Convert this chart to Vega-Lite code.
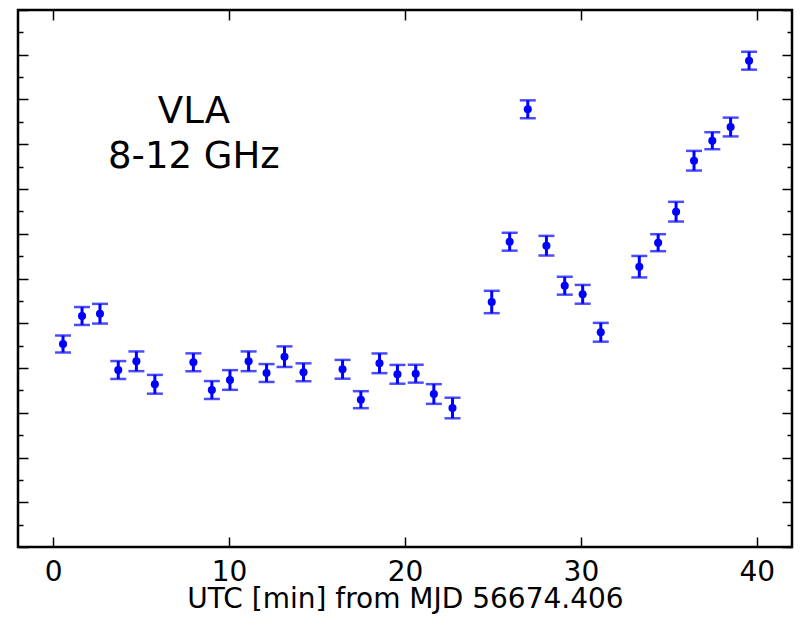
{
  "$schema": "https://vega.github.io/schema/vega-lite/v6.json",
  "width": 774,
  "height": 537,
  "autosize": {"type": "none"},
  "padding": {"left": 18, "top": 10, "right": 9, "bottom": 78},
  "background": "white",
  "config": {
    "view": {"stroke": "black", "strokeWidth": 2.5},
    "font": "DejaVu Sans"
  },
  "data": {
    "values": [
      {"t": 0.56, "flux": 4.536, "err": 0.19},
      {"t": 1.64, "flux": 5.162, "err": 0.20},
      {"t": 2.66, "flux": 5.213, "err": 0.22},
      {"t": 3.70, "flux": 3.955, "err": 0.20},
      {"t": 4.73, "flux": 4.150, "err": 0.22},
      {"t": 5.78, "flux": 3.636, "err": 0.21},
      {"t": 7.97, "flux": 4.127, "err": 0.20},
      {"t": 9.02, "flux": 3.508, "err": 0.20},
      {"t": 10.05, "flux": 3.732, "err": 0.22},
      {"t": 11.11, "flux": 4.150, "err": 0.22},
      {"t": 12.13, "flux": 3.888, "err": 0.20},
      {"t": 13.15, "flux": 4.253, "err": 0.23},
      {"t": 14.23, "flux": 3.904, "err": 0.20},
      {"t": 16.45, "flux": 3.971, "err": 0.21},
      {"t": 17.49, "flux": 3.292, "err": 0.19},
      {"t": 18.55, "flux": 4.105, "err": 0.22},
      {"t": 19.57, "flux": 3.859, "err": 0.21},
      {"t": 20.61, "flux": 3.873, "err": 0.20},
      {"t": 21.64, "flux": 3.419, "err": 0.22},
      {"t": 22.70, "flux": 3.106, "err": 0.23},
      {"t": 24.93, "flux": 5.475, "err": 0.25},
      {"t": 25.95, "flux": 6.822, "err": 0.20},
      {"t": 26.98, "flux": 9.781, "err": 0.20},
      {"t": 28.04, "flux": 6.733, "err": 0.22},
      {"t": 29.08, "flux": 5.839, "err": 0.20},
      {"t": 30.10, "flux": 5.647, "err": 0.21},
      {"t": 31.13, "flux": 4.798, "err": 0.21},
      {"t": 33.32, "flux": 6.264, "err": 0.24},
      {"t": 34.39, "flux": 6.800, "err": 0.19},
      {"t": 35.41, "flux": 7.493, "err": 0.22},
      {"t": 36.43, "flux": 8.632, "err": 0.22},
      {"t": 37.47, "flux": 9.079, "err": 0.19},
      {"t": 38.51, "flux": 9.385, "err": 0.21},
      {"t": 39.56, "flux": 10.867, "err": 0.20}
    ]
  },
  "resolve": {"axis": {"x": "independent", "y": "independent"}},
  "layer": [
    {
      "mark": {"type": "errorbar", "color": "#0000ff", "thickness": 3, "ticks": {"size": 16, "thickness": 2.5, "color": "#0000ff"}},
      "encoding": {
        "x": {
          "field": "t", "type": "quantitative",
          "scale": {"domain": [-2, 42], "nice": false, "zero": false},
          "axis": {
            "orient": "bottom", "values": [0, 10, 20, 30, 40], "domain": false, "grid": false,
            "tickSize": -10, "tickWidth": 1.5, "tickColor": "black",
            "labelPadding": 21, "labelFontSize": 28, "labelColor": "black", "labelFont": "DejaVu Sans",
            "title": "UTC [min] from MJD 56674.406", "titleFontSize": 28, "titleFontWeight": "normal",
            "titleColor": "black", "titleFont": "DejaVu Sans", "titleBaseline": "alphabetic", "titleY": 60
          }
        },
        "y": {
          "field": "flux", "type": "quantitative",
          "scale": {"domain": [0, 12], "nice": false, "zero": false},
          "axis": {
            "orient": "left", "values": [0,0.5,1,1.5,2,2.5,3,3.5,4,4.5,5,5.5,6,6.5,7,7.5,8,8.5,9,9.5,10,10.5,11,11.5,12],
            "domain": false, "grid": false, "labels": false, "title": null,
            "tickSize": {"condition": {"test": "datum.value % 1 === 0", "value": -10}, "value": -5},
            "tickWidth": 1.5, "tickColor": "black"
          }
        },
        "yError": {"field": "err"}
      }
    },
    {
      "mark": {"type": "point", "filled": true, "color": "#0000ff", "opacity": 1, "size": 65},
      "encoding": {
        "x": {
          "field": "t", "type": "quantitative",
          "axis": {
            "orient": "top", "values": [0, 10, 20, 30, 40], "domain": false, "grid": false, "labels": false, "title": null,
            "tickSize": -10, "tickWidth": 1.5, "tickColor": "black"
          }
        },
        "y": {
          "field": "flux", "type": "quantitative",
          "axis": {
            "orient": "right", "values": [0,0.5,1,1.5,2,2.5,3,3.5,4,4.5,5,5.5,6,6.5,7,7.5,8,8.5,9,9.5,10,10.5,11,11.5,12],
            "domain": false, "grid": false, "labels": false, "title": null,
            "tickSize": {"condition": {"test": "datum.value % 1 === 0", "value": -10}, "value": -5},
            "tickWidth": 1.5, "tickColor": "black"
          }
        }
      }
    },
    {
      "data": {"values": [{"label": "VLA"}]},
      "mark": {"type": "text", "align": "center", "baseline": "alphabetic", "fontSize": 37, "font": "DejaVu Sans", "color": "black", "lineHeight": 45},
      "encoding": {
        "x": {"datum": 8.0, "type": "quantitative", "axis": null},
        "y": {"datum": 9.475, "type": "quantitative", "axis": null},
        "text": {"value": ["VLA", "8-12 GHz"]}
      }
    }
  ]
}
